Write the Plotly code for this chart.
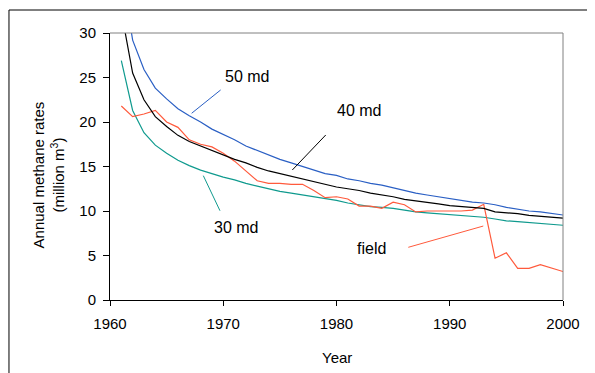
import plotly.graph_objects as go

years = list(range(1961, 2001))

md50 = [37.0, 29.2, 25.9, 23.8, 22.6, 21.5, 20.7, 20.0, 19.2, 18.6,
        18.0, 17.3, 16.8, 16.3, 15.8, 15.4, 15.0, 14.6, 14.2, 14.0,
        13.6, 13.4, 13.1, 12.9, 12.6, 12.3, 12.0, 11.8, 11.6, 11.4,
        11.2, 11.0, 10.9, 10.7, 10.4, 10.2, 10.0, 9.9, 9.7, 9.55]

md40 = [32.4, 25.5, 22.5, 20.6, 19.5, 18.5, 17.8, 17.3, 16.8, 16.3,
        15.8, 15.4, 14.9, 14.5, 14.2, 13.9, 13.6, 13.3, 13.0, 12.7,
        12.5, 12.3, 12.0, 11.8, 11.6, 11.3, 11.15, 11.0, 10.8, 10.6,
        10.5, 10.4, 10.3, 9.9, 9.8, 9.7, 9.5, 9.4, 9.3, 9.2]

md30 = [26.9, 21.3, 18.8, 17.4, 16.5, 15.7, 15.1, 14.6, 14.2, 13.8,
        13.5, 13.1, 12.8, 12.5, 12.2, 12.0, 11.8, 11.6, 11.4, 11.2,
        10.9, 10.7, 10.5, 10.4, 10.3, 10.1, 9.9, 9.8, 9.7, 9.6,
        9.5, 9.4, 9.3, 9.1, 8.9, 8.8, 8.7, 8.6, 8.5, 8.4]

field = [21.8, 20.6, 20.9, 21.3, 20.0, 19.4, 18.0, 17.5, 17.2, 16.5,
         15.6, 14.5, 13.4, 13.1, 13.1, 13.0, 13.0, 12.3, 11.5, 11.6,
         11.35, 10.55, 10.55, 10.3, 11.0, 10.7, 9.9, 10.0, 10.0, 10.0,
         10.0, 10.1, 10.75, 4.7, 5.3, 3.55, 3.55, 3.97, 3.6, 3.2]

x_ticks = [1960, 1970, 1980, 1990, 2000]
y_ticks = [0, 5, 10, 15, 20, 25, 30]

C50 = "#2a5fc4"
C40 = "#000000"
C30 = "#0f9a8e"
CF = "#ff5a3c"

FONT = "Liberation Sans, Arial, sans-serif"

fig = go.Figure()
for ys, col in [(md30, C30), (field, CF), (md40, C40), (md50, C50)]:
    fig.add_trace(go.Scatter(x=years, y=ys, mode="lines",
                             line=dict(color=col, width=1.2),
                             showlegend=False, hoverinfo="skip"))

# label leader lines (data coords)
leaders = [
    (1967.21, 20.98, 1969.77, 23.60, C50),
    (1979.05, 18.54, 1976.10, 14.61, C40),
    (1968.24, 13.97, 1969.71, 10.03, C30),
    (1986.34, 5.92, 1992.96, 8.31, CF),
]
shapes = []
for x0, y0, x1, y1, c in leaders:
    shapes.append(dict(type="line", xref="x", yref="y", x0=x0, y0=y0,
                       x1=x1, y1=y1, line=dict(color=c, width=1)))
# plot area top/right in grey
shapes.append(dict(type="line", xref="paper", yref="paper", x0=0, y0=1, x1=1, y1=1,
                   line=dict(color="#808080", width=1)))
shapes.append(dict(type="line", xref="paper", yref="paper", x0=1, y0=0, x1=1, y1=1,
                   line=dict(color="#808080", width=1)))
# outer frame
shapes.append(dict(type="rect", xref="paper", yref="paper",
                   x0=-0.2230, y0=-0.33, x1=1.09, y1=1.0861,
                   line=dict(color="#000000", width=1), fillcolor="rgba(0,0,0,0)"))

labels = [
    ("50 md", 1972.10, 25.06),
    ("40 md", 1981.99, 21.24),
    ("30 md", 1971.13, 8.20),
    ("field", 1983.05, 5.84),
]
annotations = []
for t, x, y in labels:
    annotations.append(dict(text=t, x=x, y=y, xref="x", yref="y", showarrow=False,
                            xanchor="center", yanchor="middle",
                            font=dict(family=FONT, size=16, color="#000")))
annotations.append(dict(text="Annual methane rates<br>(million m<sup>3</sup>)",
                        x=-0.136, y=0.468, xref="paper", yref="paper",
                        textangle=-90, showarrow=False, xanchor="center", yanchor="middle",
                        font=dict(family=FONT, size=15, color="#000")))
annotations.append(dict(text="Year", x=0.5, y=-0.2135, xref="paper", yref="paper",
                        showarrow=False, xanchor="center", yanchor="middle",
                        font=dict(family=FONT, size=15, color="#000")))

fig.update_layout(
    width=595, height=373,
    margin=dict(l=102, r=40, t=25, b=81),
    paper_bgcolor="white", plot_bgcolor="white",
    shapes=shapes, annotations=annotations,
    font=dict(family=FONT, size=15, color="#000"),
    xaxis=dict(range=[1960, 2000], tickvals=x_ticks, ticktext=[str(v) for v in x_ticks],
               showgrid=False, zeroline=False, showline=True, linecolor="#000", linewidth=1,
               ticks="outside", ticklen=5, tickcolor="#000", ticklabelstandoff=5,
               tickfont=dict(family=FONT, size=15, color="#000")),
    yaxis=dict(range=[0, 30], tickvals=y_ticks, ticktext=[str(v) for v in y_ticks],
               showgrid=False, zeroline=False, showline=True, linecolor="#000", linewidth=1,
               ticks="outside", ticklen=6, tickcolor="#000", ticklabelstandoff=4,
               tickfont=dict(family=FONT, size=15, color="#000")),
)

fig.write_html("out.html")
